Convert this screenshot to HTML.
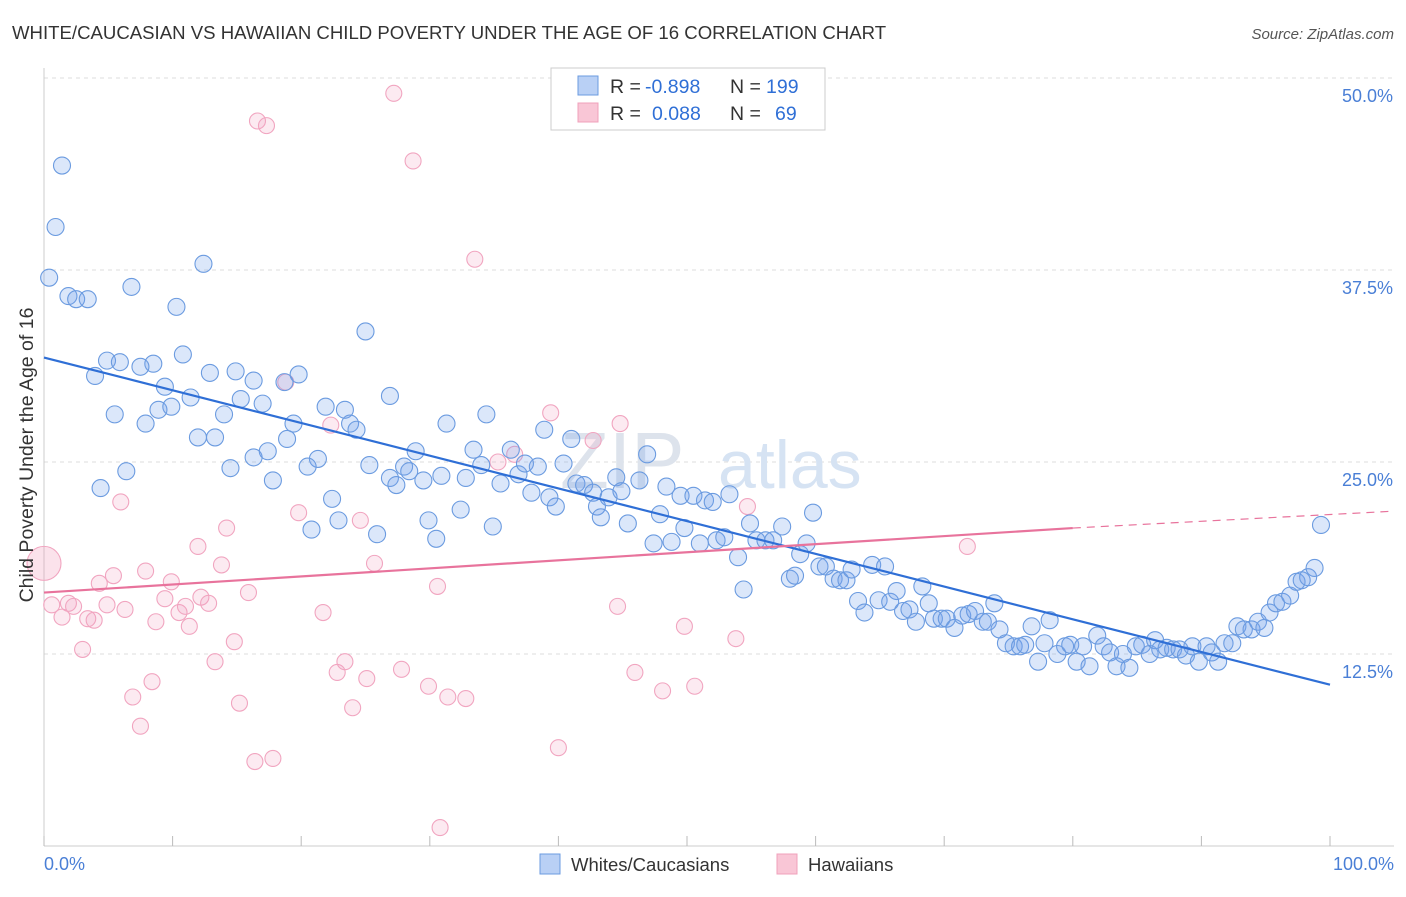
<!DOCTYPE html>
<html><head><meta charset="utf-8"><style>
body{margin:0;background:#fff;font-family:"Liberation Sans",sans-serif;}
svg text{font-family:"Liberation Sans",sans-serif;}
</style></head><body>
<svg id="chart" width="1406" height="892" xmlns="http://www.w3.org/2000/svg">
<text x="12" y="39" font-size="18.6" fill="#333">WHITE/CAUCASIAN VS HAWAIIAN CHILD POVERTY UNDER THE AGE OF 16 CORRELATION CHART</text>
<text x="1394" y="39" font-size="15" fill="#555" font-style="italic" text-anchor="end">Source: ZipAtlas.com</text>
<g id="grid"></g>
<text x="560" y="488" font-size="80" fill="#dde3ec" font-family="Liberation Serif">ZIP</text>
<text x="718" y="488" font-size="68" fill="#d6e3f3">atlas</text>
<g id="pts"></g>
<g id="lines"></g>
<text x="33" y="455" font-size="19.5" fill="#333" text-anchor="middle" transform="rotate(-90 33 455)">Child Poverty Under the Age of 16</text>
<text x="44" y="870" font-size="18" fill="#4a7fd6">0.0%</text>
<text x="1394" y="870" font-size="18" fill="#4a7fd6" text-anchor="end">100.0%</text>
<g>
<rect x="551" y="68" width="274" height="62" fill="#fff" stroke="#ccc"/>
<rect x="578" y="76" width="20" height="19" fill="#b9d0f5" stroke="#6b9be0"/>
<rect x="578" y="103" width="20" height="19" fill="#f9c6d6" stroke="#f0a0bb"/>
<text x="610" y="93" font-size="19.5" fill="#333">R =</text>
<text x="645" y="93" font-size="19.5" fill="#2f6fd6">-0.898</text>
<text x="730" y="93" font-size="19.5" fill="#333">N =</text>
<text x="766" y="93" font-size="19.5" fill="#2f6fd6">199</text>
<text x="610" y="120" font-size="19.5" fill="#333">R =</text>
<text x="652" y="120" font-size="19.5" fill="#2f6fd6">0.088</text>
<text x="730" y="120" font-size="19.5" fill="#333">N =</text>
<text x="775" y="120" font-size="19.5" fill="#2f6fd6">69</text>
</g>
<g>
<rect x="540" y="854" width="20" height="20" fill="#b9d0f5" stroke="#6b9be0"/>
<text x="571" y="871" font-size="18.5" fill="#333">Whites/Caucasians</text>
<rect x="777" y="854" width="20" height="20" fill="#f9c6d6" stroke="#f0a0bb"/>
<text x="808" y="871" font-size="18.5" fill="#333">Hawaiians</text>
</g>
</svg>
<script>
const yTicks=[12.5,25,37.5,50];
const yTickLabels=["12.5%","25.0%","37.5%","50.0%"];
const xTicks=[0,10,20,30,40,50,60,70,80,90,100];
const blueX=[1.4,0.9,0.4,1.9,2.5,3.4,6.8,10.3,12.4,25.0,4.9,5.9,8.5,3.97,7.5,10.8,9.4,12.9,14.9,16.3,19.8,18.7,5.5,7.9,8.9,9.9,11.4,14.0,15.3,17.0,19.4,21.9,23.4,23.8,24.3,26.9,11.97,13.3,16.3,17.4,18.9,21.3,20.5,14.5,6.4,4.4,17.8,22.4,22.9,20.8,25.9,25.3,26.9,27.4,28.0,28.4,28.9,29.5,30.9,31.3,29.9,30.5,32.4,32.8,33.4,34.0,34.4,34.9,35.5,36.3,36.9,37.4,38.4,37.9,38.9,39.3,39.8,40.4,41.0,41.4,42.0,42.7,43.0,43.3,43.9,44.5,44.9,45.4,46.3,46.9,47.4,47.9,48.4,48.8,49.5,49.8,50.5,51.0,51.4,52.0,52.3,52.9,53.3,53.97,54.4,54.9,55.4,56.1,56.7,57.4,58.0,58.4,58.8,59.3,59.8,60.3,60.8,61.4,61.9,62.4,62.8,63.3,63.8,64.4,64.9,65.4,65.8,66.3,66.8,67.3,67.8,68.3,68.8,69.2,69.8,70.2,70.8,71.4,71.9,72.4,73.0,73.4,73.9,74.3,74.8,75.4,75.9,76.3,76.8,77.3,77.8,78.2,78.8,79.4,79.8,80.3,80.8,81.3,81.9,82.4,82.9,83.4,83.9,84.4,84.9,85.4,85.98,86.4,86.8,87.3,87.8,88.3,88.8,89.3,89.8,90.4,90.8,91.3,91.8,92.4,92.8,93.3,93.9,94.4,94.9,95.3,95.8,96.3,96.9,97.4,97.8,98.3,98.8,99.3];
const blueY=[44.3,40.3,37.0,35.8,35.6,35.6,36.4,35.1,37.9,33.5,31.6,31.5,31.4,30.6,31.2,32.0,29.9,30.8,30.9,30.3,30.7,30.2,28.1,27.5,28.4,28.6,29.2,28.1,29.1,28.8,27.5,28.6,28.4,27.5,27.1,29.3,26.6,26.6,25.3,25.7,26.5,25.2,24.7,24.6,24.4,23.3,23.8,22.6,21.2,20.6,20.3,24.8,23.96,23.5,24.7,24.4,25.7,23.8,24.1,27.5,21.2,20.0,21.9,23.96,25.8,24.8,28.1,20.8,23.6,25.8,24.2,24.9,24.7,23.0,27.1,22.7,22.1,24.9,26.5,23.6,23.5,23.0,22.1,21.4,22.7,24.0,23.1,21.0,23.8,25.5,19.7,21.6,23.4,19.8,22.8,20.7,22.8,19.7,22.5,22.4,19.9,20.1,22.9,18.8,16.7,21.0,19.9,19.9,19.9,20.8,17.4,17.6,19.0,19.7,21.7,18.2,18.2,17.4,17.3,17.3,18.0,15.95,15.2,18.3,16.0,18.2,15.9,16.6,15.3,15.4,14.6,16.9,15.8,14.8,14.8,14.8,14.2,15.0,15.1,15.3,14.6,14.6,15.8,14.1,13.2,13.0,13.0,13.1,14.3,12.0,13.2,14.7,12.5,13.0,13.1,12.0,13.0,11.7,13.7,13.0,12.6,11.7,12.5,11.6,13.0,13.1,12.5,13.4,12.8,12.9,12.8,12.8,12.4,13.0,12.0,13.0,12.6,12.0,13.2,13.2,14.3,14.1,14.1,14.6,14.2,15.2,15.8,15.9,16.3,17.2,17.3,17.5,18.1,20.9];
const pinkX=[0.6,1.4,1.9,2.3,3.0,3.4,3.9,4.3,4.9,5.4,5.97,6.3,6.9,7.5,7.9,8.4,8.7,9.4,9.9,10.5,11.0,11.3,11.97,12.2,12.8,13.3,13.8,14.2,14.8,15.2,15.9,16.4,16.6,17.3,17.8,18.8,19.8,21.7,22.3,22.8,23.4,24.0,24.6,25.1,25.7,27.2,27.8,28.7,29.9,30.6,30.8,31.4,32.8,33.5,35.3,36.6,39.4,40.0,42.7,44.6,44.8,45.95,48.1,49.8,50.6,53.8,54.7,71.8];
const pinkY=[15.7,14.9,15.8,15.6,12.8,14.8,14.7,17.1,15.7,17.6,22.4,15.4,9.7,7.8,17.9,10.7,14.6,16.1,17.2,15.2,15.6,14.3,19.5,16.2,15.8,12.0,18.3,20.7,13.3,9.3,16.5,5.5,47.2,46.9,5.7,30.2,21.7,15.2,27.4,11.3,12.0,9.0,21.2,10.9,18.4,49.0,11.5,44.6,10.4,16.9,1.2,9.7,9.6,38.2,25.0,25.5,28.2,6.4,26.4,15.6,27.5,11.3,10.1,14.3,10.4,13.5,22.1,19.5];
const bigPink=[0,18.4];
const X0=44,X1=1330,Y0=846,PX=15.36;
const sx=v=>X0+(X1-X0)*v/100, sy=v=>Y0-v*PX;
const NS="http://www.w3.org/2000/svg";
function mk(t,a,p){const e=document.createElementNS(NS,t);for(const k in a)e.setAttribute(k,a[k]);p.appendChild(e);return e;}
const grid=document.getElementById('grid');
yTicks.forEach((t,i)=>{
 const l=mk('line',{x1:X0,x2:1394,y1:sy(t),y2:sy(t),stroke:'#ddd','stroke-dasharray':'4,4'},grid);
 
 
 const tx=mk('text',{x:1393,y:sy(t)+24,'font-size':18,fill:'#4a7fd6','text-anchor':'end'},grid);
 tx.textContent=yTickLabels[i];
 
 
});
const ax=mk('line',{x1:X0,x2:1394,y1:Y0,y2:Y0,stroke:'#ccc'},grid);


const ay=mk('line',{x1:X0,x2:X0,y1:68,y2:Y0,stroke:'#ccc'},grid);


xTicks.forEach(t=>{
 const l=mk('line',{x1:sx(t),x2:sx(t),y1:Y0-10,y2:Y0,stroke:'#bbb'},grid);
 
 
});
const pts=document.getElementById('pts');
pinkX.forEach((x,i)=>{
 const c=mk('circle',{cx:sx(x),cy:sy(pinkY[i]),r:8,fill:'rgba(243,160,190,0.22)',stroke:'#f1a5c0','stroke-width':1.1},pts);
 
 
});
const bp=mk('circle',{cx:sx(bigPink[0]),cy:sy(bigPink[1]),r:17,fill:'rgba(243,160,190,0.3)',stroke:'#f1a5c0','stroke-width':1.1},pts);


blueX.forEach((x,i)=>{
 const c=mk('circle',{cx:sx(x),cy:sy(blueY[i]),r:8.5,fill:'rgba(110,160,235,0.25)',stroke:'#6b9be0','stroke-width':1.1},pts);
 
 
});
const lines=document.getElementById('lines');
const bl=mk('line',{x1:sx(0),y1:sy(31.8),x2:sx(100),y2:sy(10.5),stroke:'#2f6fd6','stroke-width':2.2},lines);


const pl=mk('line',{x1:sx(0),y1:sy(16.5),x2:sx(80),y2:sy(20.7),stroke:'#e8739c','stroke-width':2.2},lines);


const pd=mk('line',{x1:sx(80),y1:sy(20.7),x2:1394,y2:sy(21.8),stroke:'#e8739c','stroke-width':1.2,'stroke-dasharray':'8,6'},lines);


</script>
</body></html>
